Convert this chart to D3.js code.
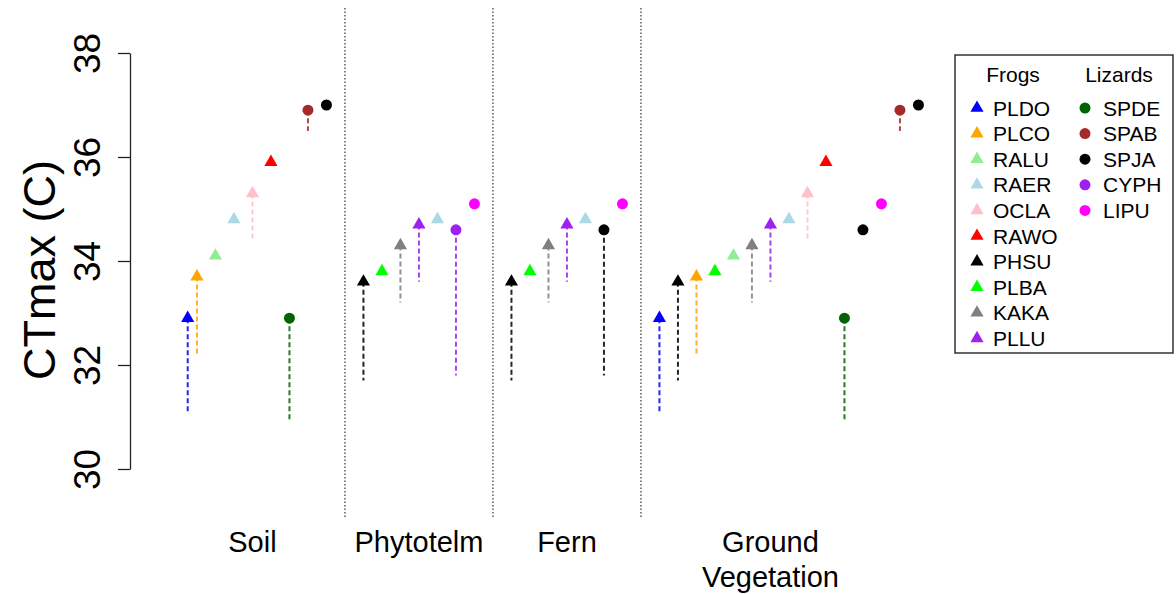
<!DOCTYPE html>
<html>
<head>
<meta charset="utf-8">
<script src="https://cdn.jsdelivr.net/npm/d3@7"></script>
<style>
  body { margin: 0; background: #fff; }
  text { font-family: "Liberation Sans", Arial, sans-serif; fill: #000; }
</style>
</head>
<body>
<div id="chart"></div>
<script>
// habitat panels
const habitats = ["Soil", "Phytotelm", "Fern", "Ground Vegetation"];
const habitatLabelAt = [4.5, 13.5, 21.5, 32.5];
const separators = [9.5, 17.5, 25.5];

// species in each panel, in plotting order
const soilSpecies = ["PLDO", "PLCO", "RALU", "RAER", "OCLA", "RAWO", "SPDE", "SPAB", "SPJA"];
const soilX = [1, 1.5, 2.5, 3.5, 4.5, 5.5, 6.5, 7.5, 8.5];
const soilCT = [32.9, 33.7, 34.1, 34.8, 35.3, 35.9, 32.9, 36.9, 37.0];
const soilLow = [31.1, 32.2, null, null, 34.4, null, 30.9, 36.5, null];

const phytoSpecies = ["PHSU", "PLBA", "KAKA", "PLLU", "RAER", "CYPH", "LIPU"];
const phytoX = [10.5, 11.5, 12.5, 13.5, 14.5, 15.5, 16.5];
const phytoCT = [33.6, 33.8, 34.3, 34.7, 34.8, 34.6, 35.1];
const phytoLow = [31.7, null, 33.2, 33.6, null, 31.8, null];

const fernSpecies = ["PHSU", "PLBA", "KAKA", "PLLU", "RAER", "SPJA", "LIPU"];
const fernX = [18.5, 19.5, 20.5, 21.5, 22.5, 23.5, 24.5];
const fernCT = [33.6, 33.8, 34.3, 34.7, 34.8, 34.6, 35.1];
const fernLow = [31.7, null, 33.2, 33.6, null, 31.8, null];

const groundSpecies = ["PLDO", "PHSU", "PLCO", "PLBA", "RALU", "KAKA", "PLLU", "RAER",
                       "OCLA", "RAWO", "SPDE", "SPJA", "LIPU", "SPAB", "SPJA"];
const groundX = [26.5, 27.5, 28.5, 29.5, 30.5, 31.5, 32.5, 33.5, 34.5, 35.5, 36.5, 37.5, 38.5, 39.5, 40.5];
const groundCT = [32.9, 33.6, 33.7, 33.8, 34.1, 34.3, 34.7, 34.8, 35.3, 35.9, 32.9, 34.6, 35.1, 36.9, 37.0];
const groundLow = [31.1, 31.7, 32.2, null, null, 33.2, 33.6, null, 34.4, null, 30.9, null, null, 36.5, null];

// legend groups
const frogs = ["PLDO", "PLCO", "RALU", "RAER", "OCLA", "RAWO", "PHSU", "PLBA", "KAKA", "PLLU"];
const frogColors = ["#0000ff", "#ffa500", "#90ee90", "#add8e6", "#ffc0cb", "#ff0000", "#000000", "#00ff00", "#808080", "#a020f0"];
const lizards = ["SPDE", "SPAB", "SPJA", "CYPH", "LIPU"];
const lizardColors = ["#006400", "#a52a2a", "#000000", "#a020f0", "#ff00ff"];

const yTicks = [30, 32, 34, 36, 38];

const width = 1176, height = 594;
const colorOf = {};
frogs.forEach((s, i) => colorOf[s] = frogColors[i]);
lizards.forEach((s, i) => colorOf[s] = lizardColors[i]);
const isLizard = s => lizards.includes(s);

const points = [];
function addPanel(species, xs, ct, low) {
  species.forEach((s, i) => points.push({ sp: s, x: xs[i], ct: ct[i], low: low[i] }));
}
addPanel(soilSpecies, soilX, soilCT, soilLow);
addPanel(phytoSpecies, phytoX, phytoCT, phytoLow);
addPanel(fernSpecies, fernX, fernCT, fernLow);
addPanel(groundSpecies, groundX, groundCT, groundLow);

const x = d3.scaleLinear().domain([0, 41]).range([169.2, 927.7]);
const y = d3.scaleLinear().domain([30, 38]).range([469, 53]);

const svg = d3.select("#chart")
  .append("svg")
  .attr("width", width)
  .attr("height", height);

svg.append("rect").attr("width", width).attr("height", height).attr("fill", "#fff");

// dotted habitat separators
svg.selectAll(".sep")
  .data(separators)
  .enter()
  .append("line")
  .attr("x1", d => x(d)).attr("x2", d => x(d))
  .attr("y1", 8).attr("y2", 517)
  .attr("stroke", "#444")
  .attr("stroke-width", 1.3)
  .attr("stroke-dasharray", "1.5,2");

// y axis
const yAxis = svg.append("g")
  .attr("transform", "translate(130,0)")
  .call(d3.axisLeft(y).tickValues(yTicks).tickSize(12).tickSizeOuter(0));
yAxis.select(".domain").attr("stroke", "#222").attr("stroke-width", 1.3);
yAxis.selectAll(".tick line").attr("stroke", "#222").attr("stroke-width", 1.3);
yAxis.selectAll(".tick text")
  .attr("x", 0).attr("dy", 0)
  .attr("transform", "translate(-30,0) rotate(-90)")
  .attr("text-anchor", "middle")
  .style("font-size", "37px")
  .style("font-family", "'Liberation Sans', Arial, sans-serif")
  .attr("fill", "#000");

svg.append("text")
  .attr("transform", "translate(55,270) rotate(-90)")
  .attr("text-anchor", "middle")
  .style("font-size", "45px")
  .text("CTmax (C)");

// habitat labels
svg.selectAll(".hab")
  .data(habitats)
  .enter()
  .append("text")
  .attr("text-anchor", "middle")
  .attr("x", (d, i) => x(habitatLabelAt[i]))
  .attr("y", 552)
  .style("font-size", "29px")
  .each(function (d) {
    const words = d.split(" ");
    const t = d3.select(this);
    words.forEach((w, j) => {
      t.append("tspan")
        .attr("x", t.attr("x"))
        .attr("dy", j === 0 ? 0 : 35)
        .text(w);
    });
  });

// dashed ranges below each point
svg.selectAll(".range")
  .data(points.filter(d => d.low !== null))
  .enter()
  .append("line")
  .attr("x1", d => x(d.x)).attr("x2", d => x(d.x))
  .attr("y1", d => y(d.ct)).attr("y2", d => y(d.low))
  .attr("stroke", d => colorOf[d.sp])
  .attr("stroke-width", 2)
  .attr("stroke-dasharray", "5,3")
  .attr("opacity", 0.85);

const triangle = d3.symbol().type(d3.symbolTriangle).size(75);
const circle = d3.symbol().type(d3.symbolCircle).size(Math.PI * 5.5 * 5.5);

svg.selectAll(".pt")
  .data(points)
  .enter()
  .append("path")
  .attr("d", d => isLizard(d.sp) ? circle() : triangle())
  .attr("transform", d => "translate(" + x(d.x) + "," + y(d.ct) + ")")
  .attr("fill", d => colorOf[d.sp]);

// legend
const legend = svg.append("g");
legend.append("rect")
  .attr("x", 955).attr("y", 55)
  .attr("width", 218).attr("height", 298)
  .attr("fill", "#fff")
  .attr("stroke", "#333")
  .attr("stroke-width", 1.5);

const groups = [
  { title: "Frogs", names: frogs, colors: frogColors, sym: triangle, mx: 977, tx: 993, cx: 1013 },
  { title: "Lizards", names: lizards, colors: lizardColors, sym: circle, mx: 1085, tx: 1103, cx: 1119 }
];
groups.forEach(g => {
  legend.append("text")
    .attr("x", g.cx).attr("y", 82)
    .attr("text-anchor", "middle")
    .style("font-size", "21px")
    .text(g.title);
  g.names.forEach((n, i) => {
    const cy = 108 + i * 25.6;
    legend.append("path")
      .attr("d", g.sym())
      .attr("transform", "translate(" + g.mx + "," + cy + ")")
      .attr("fill", g.colors[i]);
    legend.append("text")
      .attr("x", g.tx).attr("y", cy + 7.5)
      .style("font-size", "21px")
      .text(n);
  });
});
</script>
</body>
</html>
